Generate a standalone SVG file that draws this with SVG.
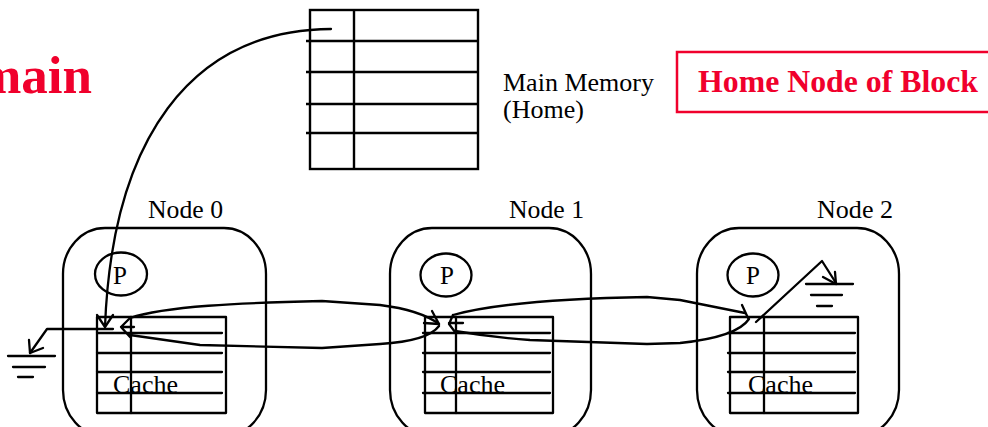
<svg xmlns="http://www.w3.org/2000/svg" width="988" height="427" viewBox="0 0 988 427">
<style>
.ln{fill:none;stroke:#000;stroke-width:2.3;stroke-linecap:round;stroke-linejoin:round}
.tb{fill:none;stroke:#000;stroke-width:2.4}
.t{font-family:"Liberation Serif","Times New Roman",serif;font-size:25px;fill:#000}
.mm{font-family:"Liberation Serif","Times New Roman",serif;font-size:26px;fill:#000}
.red{font-family:"Liberation Serif","Times New Roman",serif;font-weight:bold;fill:#f0002c}
</style>
<rect width="988" height="427" fill="#fff"/>
<text class="red" x="92" y="93" font-size="53" text-anchor="end">main</text>
<g id="legend">
<rect x="677" y="52" width="330" height="60" fill="none" stroke="#f0002c" stroke-width="2.5"/>
<text class="red" x="698" y="92" font-size="31" textLength="280" lengthAdjust="spacingAndGlyphs">Home Node of Block</text>
</g>
<g id="memory">
<rect class="tb" x="310" y="10" width="168" height="159"/>
<line class="tb" x1="354" y1="10" x2="354" y2="169"/>
<path class="tb" d="M306,41H478M306,72H478M306,104H478M306,133H478"/>
<text class="mm" x="503" y="91">Main Memory</text>
<text class="mm" x="503" y="118">(Home)</text>
</g>
<g id="node0">
<rect class="ln" x="63" y="228" width="203" height="208" rx="42" ry="46"/>
<text class="t" x="148" y="218" textLength="75" lengthAdjust="spacingAndGlyphs">Node 0</text>
<ellipse class="ln" cx="121" cy="274" rx="26" ry="21.5"/>
<text class="t" x="120" y="284" text-anchor="middle">P</text>
<rect class="ln" x="97" y="317" width="129" height="96"/>
<line class="ln" x1="131" y1="317" x2="131" y2="413"/>
<path class="ln" d="M97,333H222M97,353H222M97,372H222M97,393H222"/>
<text class="t" x="113" y="393" textLength="65" lengthAdjust="spacingAndGlyphs">Cache</text>
</g>
<g id="node1">
<rect class="ln" x="390" y="228" width="201" height="208" rx="42" ry="46"/>
<text class="t" x="509" y="218" textLength="75" lengthAdjust="spacingAndGlyphs">Node 1</text>
<ellipse class="ln" cx="446" cy="275" rx="25.5" ry="21.5"/>
<text class="t" x="447" y="284" text-anchor="middle">P</text>
<rect class="ln" x="425" y="317" width="128" height="96"/>
<line class="ln" x1="456" y1="317" x2="456" y2="413"/>
<path class="ln" d="M423,333H550M423,353H550M423,372H550M423,393H550"/>
<text class="t" x="440" y="393" textLength="65" lengthAdjust="spacingAndGlyphs">Cache</text>
</g>
<g id="node2">
<rect class="ln" x="697" y="228" width="202" height="208" rx="42" ry="46"/>
<text class="t" x="817" y="218" textLength="76" lengthAdjust="spacingAndGlyphs">Node 2</text>
<ellipse class="ln" cx="753" cy="275" rx="25.5" ry="21.5"/>
<text class="t" x="753" y="284" text-anchor="middle">P</text>
<rect class="ln" x="730" y="317" width="128" height="96"/>
<line class="ln" x1="764" y1="317" x2="764" y2="413"/>
<path class="ln" d="M728,333H855M728,353H855M728,372H855M728,393H855"/>
<text class="t" x="748" y="393" textLength="65" lengthAdjust="spacingAndGlyphs">Cache</text>
</g>
<g id="connectors">
<path class="ln" d="M331,29C190,30 112,140 105,327"/>
<path class="ln" d="M97,315L105,327L113,315"/>
<path class="ln" d="M113,329L47,329L30,353"/>
<path class="ln" d="M29,340L30,353L43,348"/>
<path class="ln" d="M8,356H55M13,367H45M18,377H33"/>
<path class="ln" d="M130,318C165,306 240,303 322,301L380,305Q420,310 439,324"/>
<path class="ln" d="M432,311L439,324L424,323"/>
<path class="ln" d="M439,326Q428,341 380,344L322,348L200,345L130,335"/>
<path class="ln" d="M130,318L121,327L130,337M121,327H134"/>
<path class="ln" d="M453,315L449,324L455,332M449,323H463"/>
<path class="ln" d="M453,315C500,302 590,298 647,297L680,300L745,313"/>
<path class="ln" d="M742,305L748,318"/>
<path class="ln" d="M455,331Q490,337 530,340L647,344L680,343Q737,337 749,319"/>
<path class="ln" d="M756,322L822,261L836,283"/>
<path class="ln" d="M835,272L836,284L823,277"/>
<path class="ln" d="M806,284H853M811,295H842M817,306H832"/>
</g>
</svg>
